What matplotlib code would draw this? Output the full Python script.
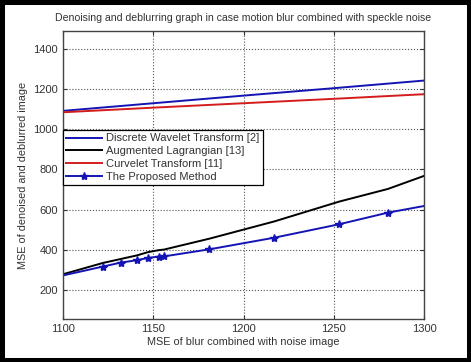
import matplotlib
matplotlib.use("Agg")
import matplotlib.pyplot as plt
from matplotlib.patches import Rectangle

plt.rcParams['font.family'] = ['Liberation Sans', 'DejaVu Sans']

# Data
x_dwt = [1100, 1150, 1200, 1250, 1300]
y_dwt = [1092, 1130, 1168, 1205, 1243]

x_cur = [1100, 1150, 1200, 1250, 1300]
y_cur = [1085, 1108, 1130, 1152, 1175]

x_prop = [1100, 1122, 1132, 1141, 1147, 1153, 1156, 1181, 1217, 1253, 1280, 1300]
y_prop = [272, 316, 336, 348, 359, 366, 367, 402, 460, 527, 585, 618]
y_al = [278, 334, 354, 372, 388, 398, 401, 455, 541, 640, 703, 768]

labels = ["Discrete Wavelet Transform [2]", "Augmented Lagrangian [13]",
          "Curvelet Transform [11]", "The Proposed Method"]
xticks = [1100, 1150, 1200, 1250, 1300]
yticks = [200, 400, 600, 800, 1000, 1200, 1400]

fig = plt.figure(figsize=(4.71, 3.62), dpi=100)
ax = fig.add_axes([0.1338, 0.1188, 0.7665, 0.7956])

blue = '#1414b4'
ax.plot(x_dwt, y_dwt, color=blue, lw=1.4, label=labels[0])
ax.plot(x_prop, y_al, color='black', lw=1.4, label=labels[1])
ax.plot(x_cur, y_cur, color='#d41c1c', lw=1.4, label=labels[2])
ax.plot(x_prop, y_prop, color=blue, lw=1.4, marker='*', markersize=6,
        markevery=list(range(1, 11)), label=labels[3])

ax.set_xlim(1100, 1300)
ax.set_ylim(55, 1490)
ax.set_xticks(xticks)
ax.set_yticks(yticks)
ax.tick_params(direction='in', top=True, right=True, labelsize=8, length=3, colors='#333333', labelcolor='#333333')
ax.grid(True, linestyle=':', color='#555555', lw=0.8)
for s in ax.spines.values():
    s.set_color('#444444')
    s.set_linewidth(1.0)

ax.set_title("Denoising and deblurring graph in case motion blur combined with speckle noise",
             fontsize=7.6, color='#333333', pad=7)
ax.set_xlabel("MSE of blur combined with noise image", fontsize=7.8, color='#333333', labelpad=2)
ax.set_ylabel("MSE of denoised and deblurred image", fontsize=7.8, color='#333333', labelpad=4)

leg = ax.legend(loc='upper left', bbox_to_anchor=(0.0, 0.656), borderaxespad=0,
                fancybox=False, framealpha=1, edgecolor='black', fontsize=8,
                handlelength=3.2, handletextpad=0.4, borderpad=0.3, labelspacing=0.25)
leg.get_frame().set_linewidth(0.9)
for t in leg.get_texts():
    t.set_color('#333333')

fig.patches.append(Rectangle((0, 0), 1, 1, transform=fig.transFigure, fill=False,
                             edgecolor='black', lw=6.5, clip_on=False))

fig.savefig("out.png", dpi=100, facecolor='white')
